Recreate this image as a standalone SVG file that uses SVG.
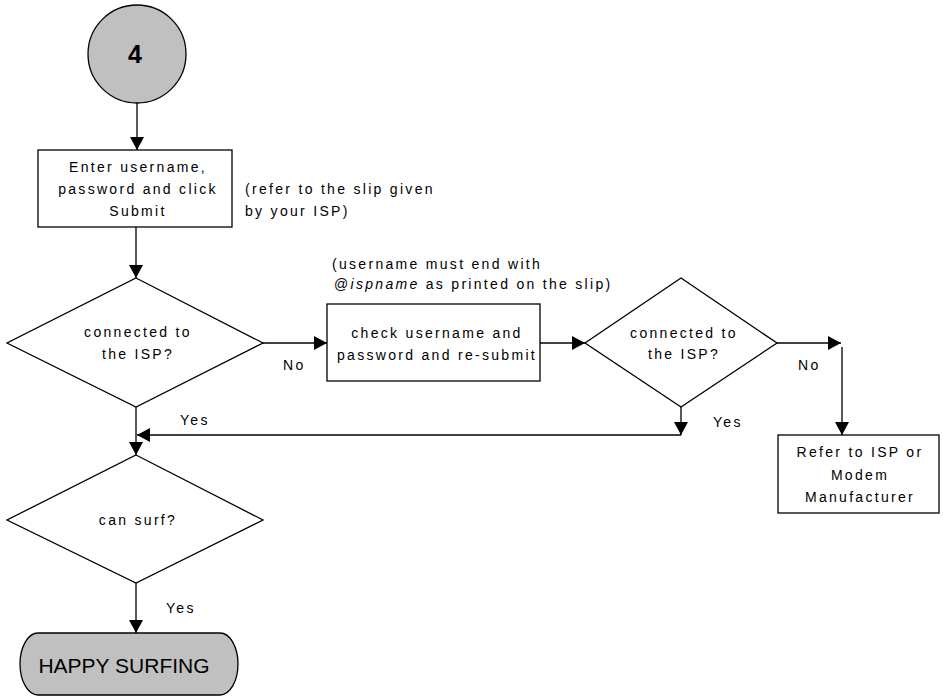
<svg xmlns="http://www.w3.org/2000/svg" width="943" height="696" viewBox="0 0 943 696">
<style>
.sh{fill:#fff;stroke:#000;stroke-width:1.3}
.gr{fill:#c0c0c0;stroke:#000;stroke-width:1.3}
.t{font-family:"Liberation Sans",Arial,sans-serif;font-size:14px;letter-spacing:2.3px;fill:#000}
.c{text-anchor:middle}
.ln{fill:none;stroke:#000;stroke-width:1.3}
</style>
<defs>
<marker id="ah" viewBox="0 0 13 14" markerUnits="userSpaceOnUse" markerWidth="13" markerHeight="14" refX="13" refY="7" orient="auto">
<path d="M0,0 L13,7 L0,14 z" fill="#000"/>
</marker>
</defs>
<rect width="943" height="696" fill="#fff"/>

<g id="connectors">
<line class="ln" x1="137" y1="103" x2="137" y2="150" marker-end="url(#ah)"/>
<line class="ln" x1="136" y1="227" x2="136" y2="278" marker-end="url(#ah)"/>
<line class="ln" x1="263" y1="343" x2="327" y2="343" marker-end="url(#ah)"/>
<line class="ln" x1="540" y1="343" x2="585" y2="343" marker-end="url(#ah)"/>
<line class="ln" x1="777" y1="343" x2="841" y2="343" marker-end="url(#ah)"/>
<line class="ln" x1="842" y1="347" x2="842" y2="435" marker-end="url(#ah)"/>
<line class="ln" x1="681" y1="407" x2="681" y2="435" marker-end="url(#ah)"/>
<line class="ln" x1="681" y1="435" x2="137" y2="435" marker-end="url(#ah)"/>
<line class="ln" x1="136" y1="407" x2="136" y2="455" marker-end="url(#ah)"/>
<line class="ln" x1="136" y1="583" x2="136" y2="633" marker-end="url(#ah)"/>
<text class="t" x="283" y="370">No</text>
<text class="t" x="798" y="370">No</text>
<text class="t" x="180" y="425">Yes</text>
<text class="t" x="713" y="427">Yes</text>
<text class="t" x="166" y="613">Yes</text>
</g>

<g id="start">
<circle class="gr" cx="137" cy="54" r="49"/>
<text x="135" y="63" text-anchor="middle" font-family="'Liberation Sans',Arial,sans-serif" font-weight="bold" font-size="25">4</text>
</g>

<g id="enter">
<rect class="sh" x="38" y="150" width="194" height="77"/>
<text class="t c" x="138" y="172">Enter username,</text>
<text class="t c" x="138" y="194">password and click</text>
<text class="t c" x="138" y="216">Submit</text>
</g>

<g id="note1">
<text class="t" x="245" y="194">(refer to the slip given</text>
<text class="t" x="245" y="216">by your ISP)</text>
</g>

<g id="decision1">
<polygon class="sh" points="136,278 263,343 136,407 7,343"/>
<text class="t c" x="138" y="337">connected to</text>
<text class="t c" x="138" y="359">the ISP?</text>
</g>

<g id="note2">
<text class="t" x="332" y="269">(username must end with</text>
<text class="t" x="334" y="289">@<tspan font-style="italic">ispname</tspan> as printed on the slip)</text>
</g>

<g id="check">
<rect class="sh" x="327" y="304" width="213" height="77"/>
<text class="t c" x="437" y="338">check username and</text>
<text class="t c" x="437" y="360">password and re-submit</text>
</g>

<g id="decision2">
<polygon class="sh" points="681,278 777,343 681,407 585,343"/>
<text class="t c" x="684" y="338">connected to</text>
<text class="t c" x="684" y="359">the ISP?</text>
</g>

<g id="refer">
<rect class="sh" x="778" y="435" width="161" height="78"/>
<text class="t c" x="860" y="457">Refer to ISP or</text>
<text class="t c" x="860" y="480">Modem</text>
<text class="t c" x="860" y="502">Manufacturer</text>
</g>

<g id="decision3">
<polygon class="sh" points="136,455 263,520 136,583 7,520"/>
<text class="t c" x="138" y="525">can surf?</text>
</g>

<g id="end">
<path class="gr" d="M38,633 H220 A18,31 0 0 1 220,695 H38 A18,31 0 0 1 38,633 Z"/>
<text x="124" y="673" text-anchor="middle" font-family="'Liberation Sans',Arial,sans-serif" font-size="21">HAPPY SURFING</text>
</g>
</svg>
